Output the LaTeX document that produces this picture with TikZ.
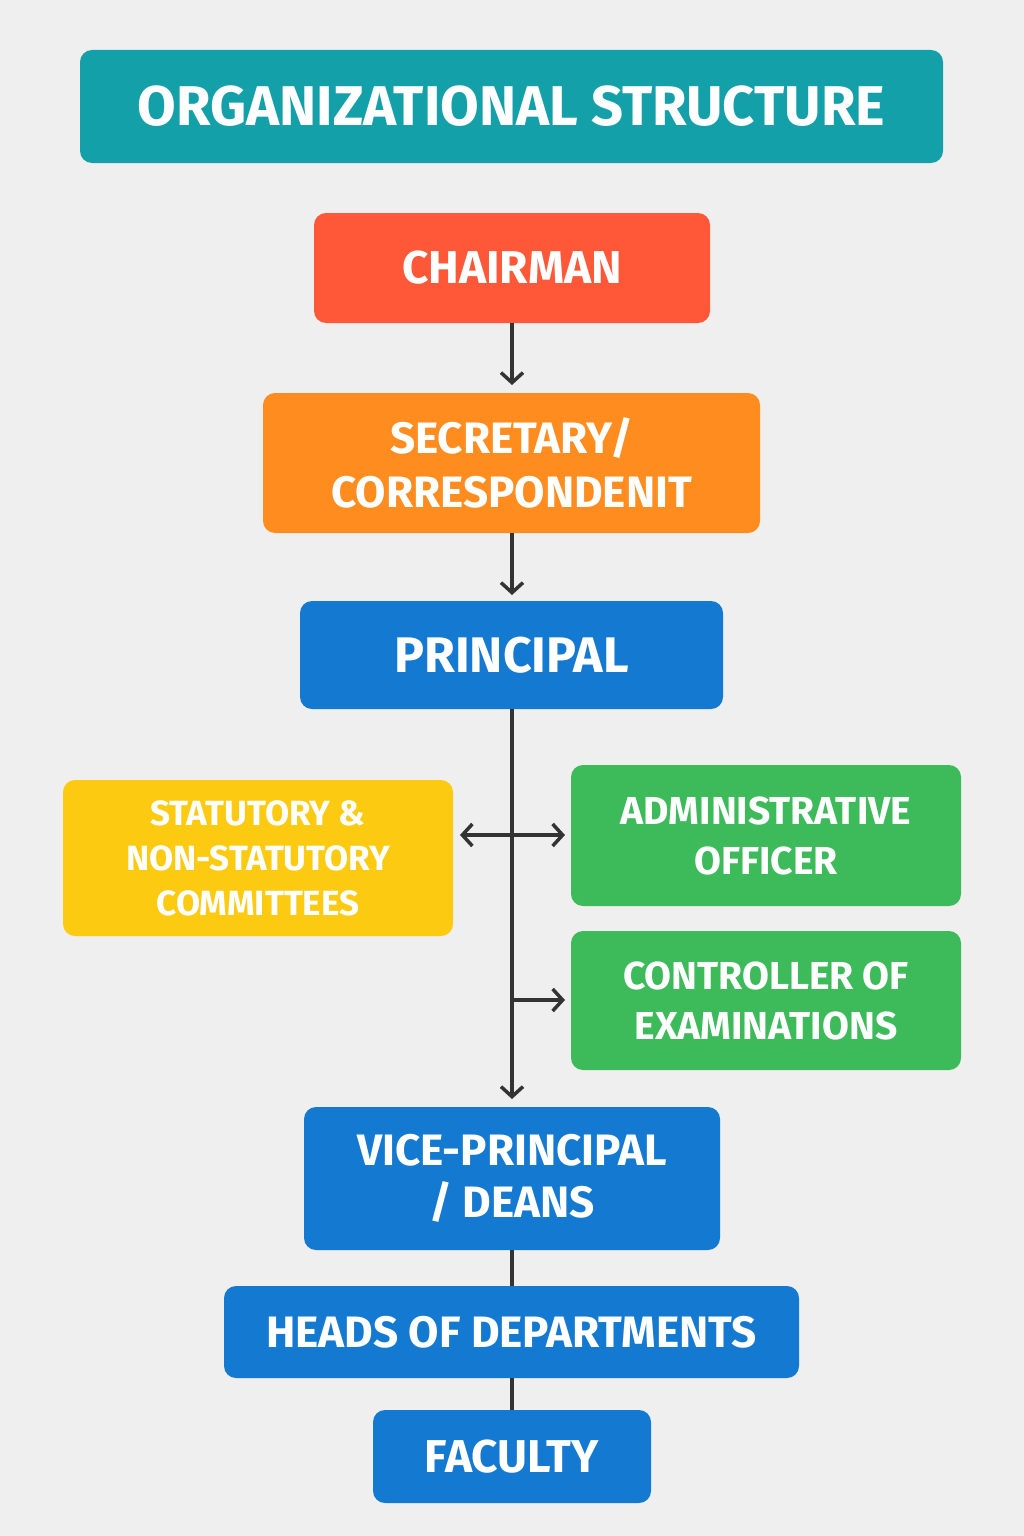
\documentclass[tikz,border=0pt]{standalone}
\usepackage{fontspec}
\setmainfont{Fira Sans}
\usetikzlibrary{arrows.meta}
\definecolor{bg}{HTML}{EFEFEF}
\definecolor{teal}{HTML}{13A0A8}
\definecolor{red}{HTML}{FF5838}
\definecolor{orng}{HTML}{FF8C1F}
\definecolor{blu}{HTML}{1479D0}
\definecolor{yel}{HTML}{FDCA12}
\definecolor{grn}{HTML}{3DBB5A}
\definecolor{ln}{HTML}{333333}
\begin{document}
\begin{tikzpicture}[x=1pt,y=-1pt,
  box/.style={rounded corners=12pt,text=white,align=center},
  con/.style={draw=ln,line width=3.5pt},
  arr/.style={con,-{Straight Barb[length=10pt,width=22pt,line width=3.5pt]}}]
\fill[bg] (0,0) rectangle (1024,1536);
\useasboundingbox (0,0) rectangle (1024,1536);
\newcommand\bx[9]{\fill[#6,rounded corners=12pt] (#2,#3) rectangle (#4,#5);
  \node[box,font=\fontsize{#7}{#8}\selectfont\bfseries] (#1) at ({(#2+#4)/2},{(#3+#5)/2}) {#9};
  \coordinate (#1n) at (512,#3); \coordinate (#1s) at (512,#5);}
\bx{t}{80}{50}{943}{163}{teal}{56}{60}{ORGANIZATIONAL STRUCTURE}
\bx{c}{314}{213}{710}{323}{red}{46}{50}{CHAIRMAN}
\bx{s}{263}{393}{760}{533}{orng}{44}{54}{SECRETARY/\\CORRESPONDENIT}
\bx{p}{300}{601}{723}{709}{blu}{50}{54}{PRINCIPAL}
\bx{st}{63}{780}{453}{936}{yel}{35}{45}{STATUTORY \&\\NON-STATUTORY\\COMMITTEES}
\bx{a}{571}{765}{961}{906}{grn}{39}{50}{ADMINISTRATIVE\\OFFICER}
\bx{ce}{571}{931}{961}{1070}{grn}{39}{50}{CONTROLLER OF\\EXAMINATIONS}
\bx{v}{304}{1107}{720}{1250}{blu}{44}{52}{VICE-PRINCIPAL\\/ DEANS}
\bx{h}{224}{1286}{799}{1378}{blu}{44}{48}{HEADS OF DEPARTMENTS}
\bx{f}{373}{1410}{651}{1503}{blu}{46}{50}{FACULTY}
\coordinate (j1) at (512,835);
\coordinate (j2) at (512,1000);
\coordinate (ast) at (460,835);
\coordinate (aa) at (565,835);
\coordinate (ace) at (565,1000);
\draw[arr] (cs) -- ++(0,62);
\draw[arr] (ss) -- ++(0,62);
\draw[arr] (ps) -- ++(0,390);
\draw[arr] (j1) -- (ast);
\draw[arr] (j1) -- (aa);
\draw[arr] (j2) -- (ace);
\draw[con] (vs) -- (hn);
\draw[con] (hs) -- (fn);
\end{tikzpicture}
\end{document}
